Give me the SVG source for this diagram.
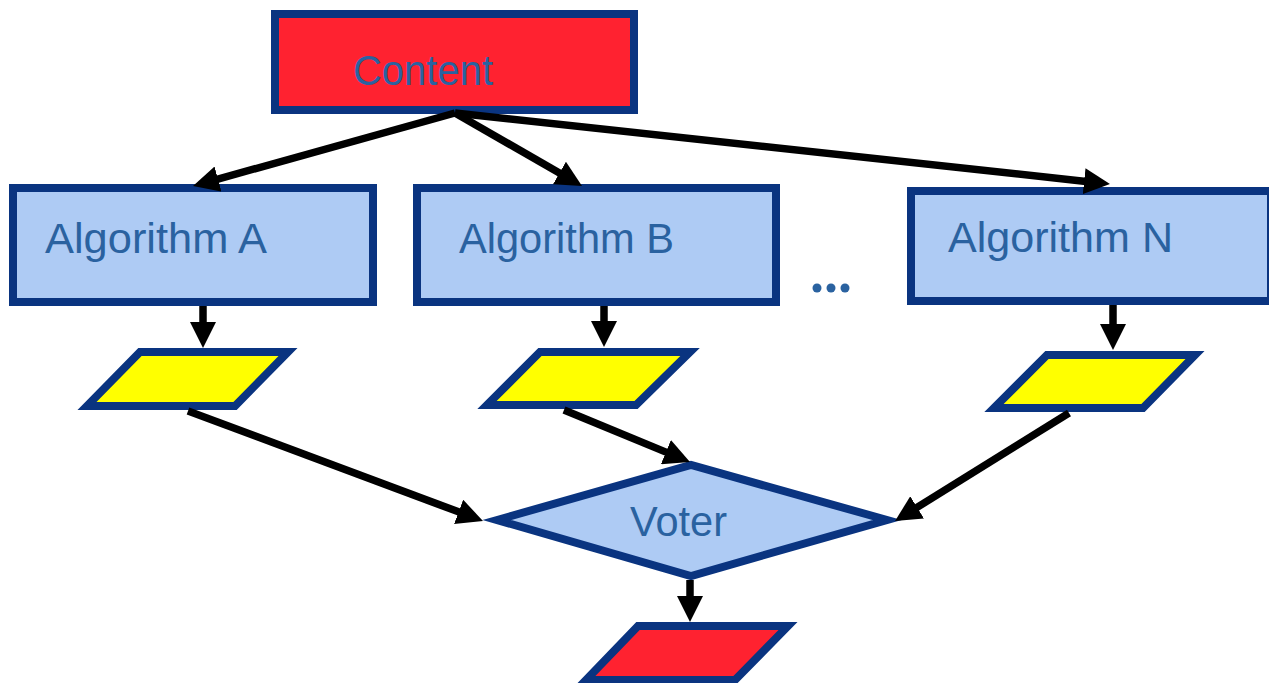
<svg xmlns="http://www.w3.org/2000/svg" width="1269" height="683" viewBox="0 0 1269 683">
  <style>
    .box { stroke: #0A3480; stroke-width: 8; stroke-linejoin: miter; }
    .algo { fill: #AECBF4; }
    .red { fill: #FF2230; }
    .yellow { fill: #FFFF00; }
    .label { font-family: "Liberation Sans", Arial, sans-serif; font-size: 42px; fill: #2A62A0; }
    .conn { stroke: #000000; stroke-width: 7.5; fill: none; marker-end: url(#arrow); }
  </style>
  <defs>
    <marker id="arrow" markerUnits="userSpaceOnUse" markerWidth="26" markerHeight="26" refX="2" refY="13" orient="auto">
      <path d="M0,0 L26,13 L0,26 z" fill="#000000"/>
    </marker>
  </defs>
  <rect width="1269" height="683" fill="#FFFFFF"/>

  <!-- source -->
  <g id="content">
    <rect class="box red" x="275" y="14" width="359" height="96"/>
    <text class="label" x="353" y="85" textLength="140" lengthAdjust="spacingAndGlyphs">Content</text>
  </g>

  <!-- algorithms -->
  <g id="algorithm-a">
    <rect class="box algo" x="13" y="188" width="360" height="114"/>
    <text class="label" x="45" y="253" textLength="222" lengthAdjust="spacingAndGlyphs">Algorithm A</text>
  </g>
  <g id="algorithm-b">
    <rect class="box algo" x="417" y="188" width="359" height="114"/>
    <text class="label" x="459" y="253" textLength="215" lengthAdjust="spacingAndGlyphs">Algorithm B</text>
  </g>
  <g id="ellipsis">
    <circle cx="817" cy="288" r="4.5" fill="#2A62A0"/>
    <circle cx="831" cy="288" r="4.5" fill="#2A62A0"/>
    <circle cx="845" cy="288" r="4.5" fill="#2A62A0"/>
  </g>
  <g id="algorithm-n">
    <rect class="box algo" x="911" y="191" width="360" height="110"/>
    <text class="label" x="948" y="252" textLength="225" lengthAdjust="spacingAndGlyphs">Algorithm N</text>
  </g>

  <!-- per-algorithm results -->
  <g id="result-a">
    <polygon class="box yellow" points="140,352 288,352 235,406 87,406"/>
  </g>
  <g id="result-b">
    <polygon class="box yellow" points="540,352 690,352 636,405 487,405"/>
  </g>
  <g id="result-n">
    <polygon class="box yellow" points="1047,355 1195,355 1143,408 994,408"/>
  </g>

  <!-- voter -->
  <g id="voter">
    <polygon class="box algo" points="497,520 691,465 887,520 691,576"/>
    <text class="label" x="630" y="536" textLength="97" lengthAdjust="spacingAndGlyphs">Voter</text>
  </g>

  <!-- final output -->
  <g id="output">
    <polygon class="box red" points="638,626 788,626 735,680 586,680"/>
  </g>

  <!-- connectors -->
  <g id="connectors">
    <line class="conn" x1="455" y1="113" x2="216.1" y2="179.6"/>
    <line class="conn" x1="455" y1="113" x2="561.2" y2="174.0"/>
    <line class="conn" x1="455" y1="113" x2="1086.1" y2="181.4"/>
    <line class="conn" x1="203" y1="306" x2="203" y2="324"/>
    <line class="conn" x1="604" y1="306" x2="604" y2="323"/>
    <line class="conn" x1="1113" y1="305" x2="1113" y2="326"/>
    <line class="conn" x1="188" y1="411" x2="460.5" y2="512.6"/>
    <line class="conn" x1="564" y1="410" x2="667.8" y2="452.9"/>
    <line class="conn" x1="1069" y1="413" x2="915.4" y2="508.4"/>
    <line class="conn" x1="690" y1="580" x2="690" y2="598"/>
  </g>
</svg>
